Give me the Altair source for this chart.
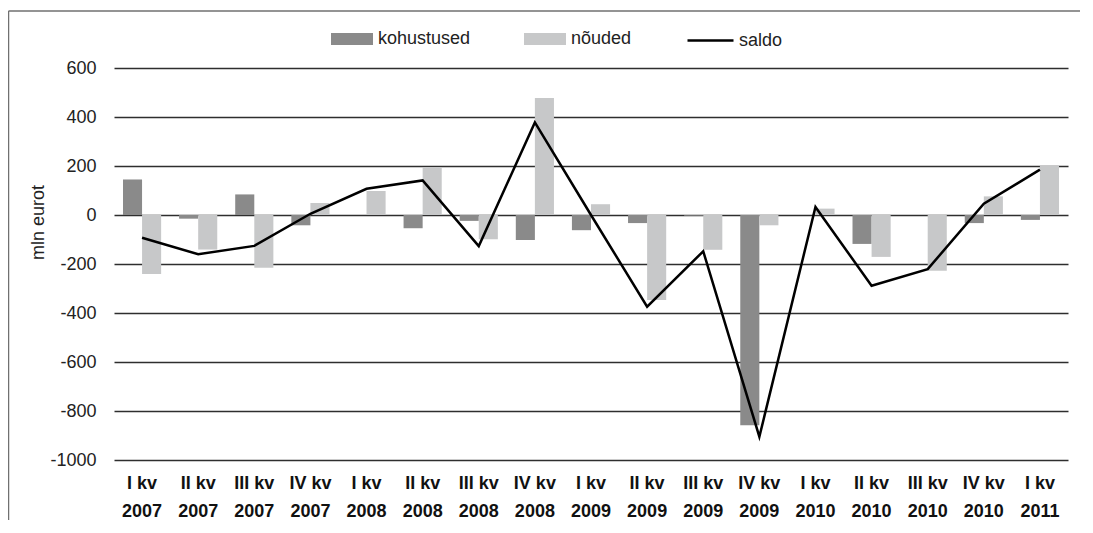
import altair as alt
import pandas as pd

quarters = ["I kv", "II kv", "III kv", "IV kv",
            "I kv", "II kv", "III kv", "IV kv",
            "I kv", "II kv", "III kv", "IV kv",
            "I kv", "II kv", "III kv", "IV kv",
            "I kv"]
years = ["2007"] * 4 + ["2008"] * 4 + ["2009"] * 4 + ["2010"] * 4 + ["2011"]

kohustused = [145, -15, 84, -42, 0, -54, -24, -102, -62, -33, -3, -858, 0, -118, 0, -33, -20]
nouded = [-241, -141, -215, 49, 98, 195, -99, 478, 44, -347, -142, -42, 26, -171, -228, 76, 202]
saldo = [-93, -160, -126, 5, 107, 141, -127, 378, 0, -374, -148, -905, 33, -289, -221, 46, 185]

bar_series = ["kohustused", "nõuded"]
bar_colors = ["#8a8a8a", "#c7c8c9"]
line_series = ["saldo"]
y_ticks = [-1000, -800, -600, -400, -200, 0, 200, 400, 600]

FONT = "Liberation Sans"

cats = [f"{q}\n{y}" for q, y in zip(quarters, years)]
n = len(cats)

bars_df = pd.DataFrame({
    "cat": cats * 2,
    "series": [bar_series[0]] * n + [bar_series[1]] * n,
    "value": kohustused + nouded,
})
line_df = pd.DataFrame({"cat": cats, "series": line_series * n, "value": saldo})
one_df = pd.DataFrame({"a": [0]})

x_enc = alt.X(
    "cat:N", sort=cats,
    scale=alt.Scale(paddingInner=0.32, paddingOuter=0.16),
    axis=alt.Axis(
        title=None, labelAngle=0, labelExpr="split(datum.label, '\\n')",
        labelFont=FONT, labelFontSize=18, labelFontWeight="bold", labelColor="#111",
        labelBaseline="alphabetic", labelLineHeight=28, labelPadding=28,
        ticks=False, tickSize=0, domain=False, grid=False,
    ),
)

y_enc = alt.Y(
    "value:Q",
    scale=alt.Scale(domain=[-1000, 600], nice=False, zero=False),
    axis=alt.Axis(
        values=y_ticks, title="mln eurot", labelExpr="'' + datum.value",
        labelFont=FONT, labelFontSize=18, labelColor="#222", labelPadding=18,
        labelBaseline="middle",
        ticks=False, tickSize=0, domain=False,
        grid=True, gridColor="#2e2e2e", gridWidth=1.3,
        titleFont=FONT, titleFontSize=18, titleFontWeight="normal", titleColor="#222",
        titleX=-71, titleY=154, titleBaseline="alphabetic", titleAngle=270,
    ),
)

frame_top = alt.Chart(one_df).mark_rule(color="#707070", strokeWidth=1.5).encode(
    x=alt.value(-105.5), x2=alt.value(966), y=alt.value(-57)
)
frame_left = alt.Chart(one_df).mark_rule(color="#707070", strokeWidth=1.5).encode(
    x=alt.value(-105.5), y=alt.value(-57), y2=alt.value(460)
)

bars = alt.Chart(bars_df).mark_bar().encode(
    x=x_enc,
    xOffset=alt.XOffset("series:N", sort=bar_series,
                        scale=alt.Scale(paddingInner=0, paddingOuter=0)),
    y=y_enc,
    fill=alt.Fill(
        "series:N",
        scale=alt.Scale(domain=bar_series, range=bar_colors),
        legend=alt.Legend(
            title=None, orient="none", legendX=217, legendY=-50,
            direction="horizontal",
            symbolType="M-1,-0.286H1V0.286H-1Z", symbolSize=1764,
            symbolStrokeWidth=0, symbolOpacity=1,
            labelOffset=5, columnPadding=53, padding=0,
            labelFont=FONT, labelFontSize=18, labelColor="#222",
        ),
    ),
)

line = alt.Chart(line_df).mark_line(strokeWidth=2.5).encode(
    x=x_enc,
    y=y_enc,
    stroke=alt.Stroke(
        "series:N",
        scale=alt.Scale(domain=line_series, range=["#000000"]),
        legend=alt.Legend(
            title=None, orient="none", legendX=572, legendY=-52,
            direction="horizontal",
            symbolType="M-1,0H1", symbolSize=2116, symbolStrokeWidth=2.5,
            labelOffset=4, padding=0,
            labelFont=FONT, labelFontSize=18, labelColor="#222",
        ),
    ),
)

chart = alt.layer(frame_top, frame_left, bars, line).properties(
    width=954, height=392,
    autosize=alt.AutoSizeParams(type="none"),
    padding={"left": 106, "top": 60, "right": 12, "bottom": 60},
    background="white",
).configure_view(stroke=None)

chart.save("out.html", embed_options={"renderer": "svg", "actions": False})
